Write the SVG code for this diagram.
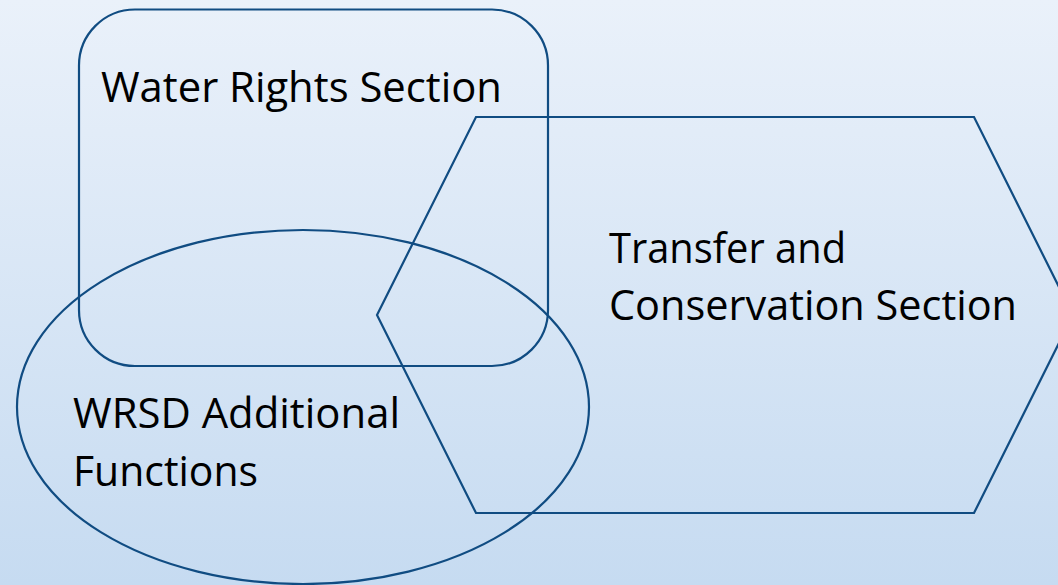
<svg xmlns="http://www.w3.org/2000/svg" width="1058" height="585" viewBox="0 0 1058 585">
<defs>
<linearGradient id="bg" x1="0" y1="0" x2="0" y2="1">
<stop offset="0" stop-color="#eaf1fa"/>
<stop offset="1" stop-color="#c6dbf1"/>
</linearGradient>
<style>
.shape{fill:none;stroke:#104c82;stroke-width:2.2}
.lbl{font-family:"Open Sans","Liberation Sans",sans-serif;font-size:42px;fill:#000}
</style>
</defs>
<rect x="0" y="0" width="1058" height="585" fill="url(#bg)"/>
<g id="water-rights">
<rect class="shape" x="79" y="9.5" width="469" height="356.5" rx="56" ry="56"/>
<text class="lbl" x="101" y="101.5" textLength="401" lengthAdjust="spacingAndGlyphs">Water Rights Section</text>
</g>
<g id="transfer-conservation">
<polygon class="shape" points="476,117 974,117 1073,315 974,513 476,513 377,315"/>
<text class="lbl" x="609" y="262.5" textLength="237" lengthAdjust="spacingAndGlyphs">Transfer and</text>
<text class="lbl" x="609" y="319.5" textLength="408" lengthAdjust="spacingAndGlyphs">Conservation Section</text>
</g>
<g id="wrsd-additional">
<ellipse class="shape" cx="303" cy="407" rx="286" ry="177"/>
<text class="lbl" x="73" y="428" textLength="327" lengthAdjust="spacingAndGlyphs">WRSD Additional</text>
<text class="lbl" x="73" y="485.5" textLength="185" lengthAdjust="spacingAndGlyphs">Functions</text>
</g>
<g id="connectors"/>
</svg>
